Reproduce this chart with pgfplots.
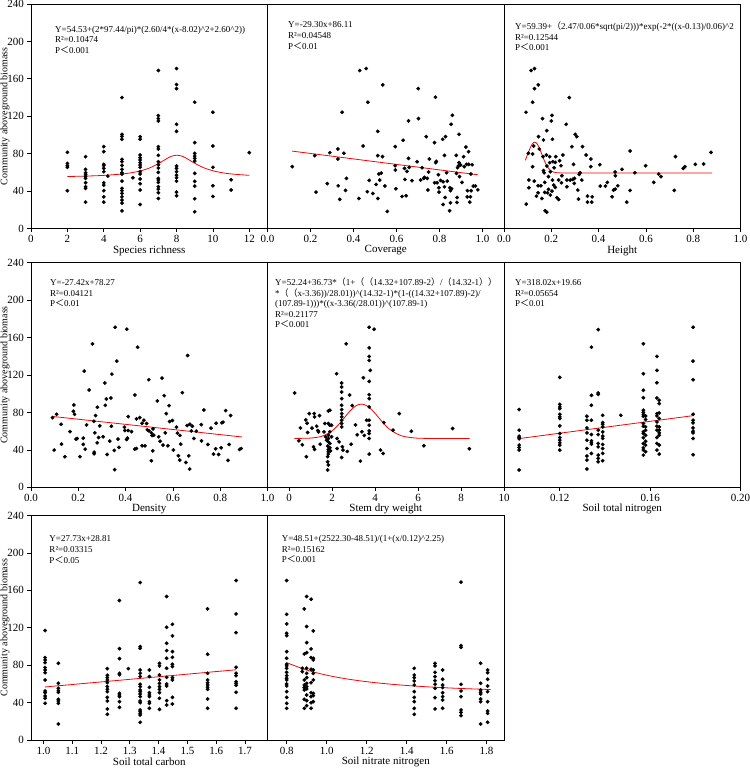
\documentclass[border=0pt]{standalone}
\usepackage{fontspec}
\setmainfont{Liberation Serif}
\newfontfamily\cjk{Noto Sans CJK SC}
\usepackage{pgfplots}
\pgfplotsset{compat=1.18}
\newcommand\ticfont{\fontsize{11}{13}\selectfont}
\newcommand\labfont{\fontsize{11}{13}\selectfont}
\newcommand\ylabfont{\fontsize{10}{12}\selectfont}
\newcommand\annfont{\fontsize{9}{11}\selectfont}
\newcommand\fwl{{\cjk （}}
\newcommand\fwr{{\cjk ）}}
\newcommand\fwlt{{\cjk ＜}}
\newcommand\crt{\textasciicircum}
\definecolor{fitred}{RGB}{255,0,0}
\pgfplotsset{
  panel/.style={scale only axis, width=236.5pt, height=224.5pt, anchor=south west,
    ymin=0, ymax=240, axis line style={black, line width=0.9pt},
    tick style={black, line width=0.7pt}, tick align=outside, major tick length=3.5pt,
    xtick pos=left, ytick pos=left, tick label style={font=\ticfont},
    /pgf/number format/assume math mode=true,
    xlabel style={font=\labfont, at={(axis description cs:0.5,-0.098)}, anchor=center}},
  leftpanel/.style={ytick={0,40,80,120,160,200,240}, ylabel={Community aboveground biomass},
    ylabel style={font=\ylabfont, at={(axis description cs:-0.110,0.5)}, anchor=center}},
  innerpanel/.style={ytick=\empty},
  dots/.style={only marks, mark=*, mark size=1.7pt, black},
  fit/.style={no marks, draw=fitred, line width=0.8pt},
}
\tikzset{ann/.style={anchor=base west, inner sep=0pt, font=\annfont}}
\begin{document}
\begin{tikzpicture}
\useasboundingbox (0pt,0pt) rectangle (750pt,-769pt);
% ---------- Panel 1
\begin{axis}[panel, leftpanel, at={(31pt,-228.5pt)}, xmin=0, xmax=13,
  xtick={0,2,4,6,8,10,12}, xticklabels={0,2,4,6,8,10,12}, xlabel={Species richness}]
\addplot[dots] coordinates {
(2,81.4)(2,69.6)(2,67.1)(2,65.4)(2,40.4)
(3,76.8)(3,63.2)(3,59.6)(3,57.5)(3,55.4)(3,53.6)(3,48.9)(3,44.6)(3,42.9)(3,28.2)
(4,87.5)(4,82.1)(4,68.6)(4,67.1)(4,64.3)(4,60.7)(4,48.9)(4,46.4)(4,40.4)(4,33.9)(4,28.2)(4.22,56.1)
(5,140)(5,100.7)(5,98.6)(5,95.4)(5,73.9)(5,71.4)(5,67.5)(5,63.2)(5,59.6)(5,58.2)(5,50.7)(5,42.9)(5,40.4)(5,37.5)(5,33.9)(5,30.4)(5,27.1)(5,18.9)(5.6,54.3)
(6,98.2)(6,95.4)(6,78.6)(6,75.7)(6,73.2)(6,70.4)(6,67.9)(6,65.4)(6,60.7)(6,58.2)(6,52.9)(6,47.9)(6,41.1)(6,25.7)
(7,168.9)(7,120.7)(7,117.5)(7,115)(7,87.5)(7,85)(7,78.2)(7,71.4)(7,68.2)(7,64.6)(7,60)(7,53.6)(7,51.8)(7,49.3)(7,44.6)(7,42.1)(7,38.2)(7,32.1)
(8,171)(8,153.9)(8,149.6)(8,111.4)(8,103.9)(8,66.8)(8,64.3)(8,60.7)(8,57.1)(8,54.3)(8,50.7)(8,38.9)(8,35)
(9,135)(9,91.8)(9,80.4)(9,77.5)(9,75)(9,72.1)(9,58.9)(9,50.4)(9,45.4)(9,31.8)(9,17.9)
(10,124.3)(10,88.2)(10,65.4)(10,45.7)(10,34.3)
(11,52.1)(11,41.1)(12,81.1)};
\addplot[fit, smooth] coordinates {
(2,55.59)(3,56.03)(4,56.79)(5,58.26)(5.5,59.55)(6,61.52)(6.5,64.61)(7,69.30)(7.5,75.10)(7.75,77.40)(8.02,78.39)
(8.25,77.66)(8.5,75.52)(9,69.74)(9.5,64.92)(10,61.72)(10.5,59.67)(11,58.34)(12,56.83)};
\node[ann] at ([xshift=24pt,yshift=-28pt]rel axis cs:0,1) {Y=54.53+(2*97.44/pi)*(2.60/4*(x-8.02)\crt2+2.60\crt2))};
\node[ann] at ([xshift=24pt,yshift=-38.7pt]rel axis cs:0,1) {R²=0.10474};
\node[ann] at ([xshift=24pt,yshift=-49.5pt]rel axis cs:0,1) {P\fwlt0.001};
\end{axis}
% ---------- Panel 2
\begin{axis}[panel, innerpanel, at={(267.5pt,-228.5pt)}, xmin=0, xmax=1.1,
  xtick={0,0.2,0.4,0.6,0.8,1.0}, xticklabels={0.0,0.2,0.4,0.6,0.8,1.0}, xlabel={Coverage}]
\addplot[dots] coordinates {
(0.115,66.1)(0.226,38.9)(0.220,77.9)(0.290,81.1)(0.327,85)(0.327,74.3)(0.355,80.4)(0.347,124.3)(0.278,47.9)(0.329,45.7)
(0.336,31.1)(0.367,53.6)(0.363,40.7)(0.429,168.9)(0.459,171)(0.467,135)(0.445,88.2)(0.425,32.1)(0.464,39.3)(0.473,51.4)
(0.490,37.5)(0.505,47.1)(0.513,32.1)(0.513,103.9)(0.513,77.9)(0.518,58.2)(0.529,59.3)(0.535,76.8)(0.536,153.6)(0.522,51.8)
(0.546,45.4)(0.557,18.2)(0.594,87.5)(0.594,67.1)(0.595,62.5)(0.597,42.5)(0.631,94.3)(0.626,34.3)(0.645,35)(0.637,64.3)
(0.649,61.1)(0.639,52.5)(0.656,115)(0.656,75)(0.659,65.4)(0.672,51.1)(0.701,149.6)(0.702,117.5)(0.696,71.4)(0.712,51.8)
(0.719,65)(0.727,53.6)(0.738,98.2)(0.730,54.6)(0.743,53.6)(0.746,41.1)(0.753,74.3)(0.749,60.4)(0.781,140.4)(0.777,91.8)
(0.785,71.8)(0.783,70.4)(0.777,48.9)(0.789,48.9)(0.795,57.5)(0.797,43.6)(0.798,38.9)(0.805,51.4)(0.815,95.4)(0.817,50)
(0.817,25.7)(0.823,78.2)(0.828,98.2)(0.823,44.6)(0.826,33.2)(0.833,59.6)(0.836,50.7)(0.848,43.6)(0.851,40.4)(0.854,111.4)
(0.851,27.5)(0.847,18.9)(0.860,121)(0.856,42.5)(0.878,78.2)(0.879,58.9)(0.882,33.2)(0.884,65)(0.888,66.8)(0.891,70.4)
(0.891,100.7)(0.893,55.4)(0.881,27.9)(0.898,67.9)(0.905,49.3)(0.912,76.8)(0.915,66.1)(0.923,87.1)(0.926,68.6)(0.929,33.9)
(0.930,40.4)(0.935,82.1)(0.936,68.6)(0.941,28.2)(0.944,33.9)(0.947,40.4)(0.952,68.2)(0.946,58.2)(0.957,45.4)(0.967,45.4)(0.978,41.4)};
\addplot[fit] coordinates {(0.115,82.74)(0.978,57.45)};
\node[ann] at ([xshift=20.5pt,yshift=-23.7pt]rel axis cs:0,1) {Y=-29.30x+86.11};
\node[ann] at ([xshift=20.5pt,yshift=-34.7pt]rel axis cs:0,1) {R²=0.04548};
\node[ann] at ([xshift=20.5pt,yshift=-45.5pt]rel axis cs:0,1) {P\fwlt0.01};
\end{axis}
% ---------- Panel 3
\begin{axis}[panel, innerpanel, at={(504pt,-228.5pt)}, xmin=0, xmax=1.0,
  xtick={0,0.2,0.4,0.6,0.8,1.0}, xticklabels={0.0,0.2,0.4,0.6,0.8,1.0}, xlabel={Height}]
\addplot[dots] coordinates {
(0.093,124.3)(0.094,26.1)(0.105,51.8)(0.105,43.6)(0.103,80.4)(0.115,168.9)(0.129,171)(0.121,135)(0.129,149.6)(0.145,153.6)
(0.121,79.6)(0.121,66.1)(0.125,88.2)(0.128,50.7)(0.137,34.6)(0.144,38.2)(0.146,98.2)(0.144,45.7)(0.149,85)(0.156,45.7)
(0.160,32.1)(0.163,117.5)(0.167,94.6)(0.165,76.8)(0.167,61.8)(0.170,59.6)(0.172,49.3)(0.172,38.6)(0.174,18.9)(0.181,17.5)
(0.179,78.6)(0.181,66.8)(0.181,104.6)(0.184,38.2)(0.188,55.4)(0.188,41.8)(0.193,76.8)(0.193,70.4)(0.196,60.7)(0.196,35.7)
(0.200,115)(0.203,121)(0.203,40)(0.205,95.4)(0.205,51.8)(0.207,71.4)(0.210,46.4)(0.212,65)(0.217,70.7)(0.217,43.9)
(0.219,76.8)(0.224,32.9)(0.231,31.1)(0.231,51.8)(0.235,72.5)(0.241,67.1)(0.243,48.9)(0.245,56.4)(0.249,78.6)(0.263,111.4)
(0.266,51.8)(0.266,44.6)(0.276,140)(0.280,51.8)(0.287,87.5)(0.291,52.5)(0.294,68.6)(0.297,48.2)(0.298,53.6)(0.301,100.7)
(0.308,98.2)(0.312,41.1)(0.315,31.4)(0.318,57.9)(0.322,59.6)(0.332,87.5)(0.329,51.8)(0.347,78.6)(0.353,34.6)(0.353,28.2)
(0.367,74.3)(0.373,33.9)(0.371,28.2)(0.367,66.1)(0.405,68.2)(0.407,45.4)(0.429,45.4)(0.437,49.3)(0.457,33.9)(0.463,41.1)
(0.470,42.1)(0.470,60.4)(0.471,56.4)(0.481,45.7)(0.499,63.2)(0.519,28.2)(0.533,82.9)(0.533,40.7)(0.553,59.6)(0.599,67.1)
(0.633,49.3)(0.654,58.2)(0.664,55.4)(0.720,40.7)(0.725,76.8)(0.758,64.3)(0.765,66.1)(0.809,68.6)(0.844,68.9)(0.875,81.4)};
\addplot[fit, smooth] coordinates {
(0.09,72.89)(0.095,76.02)(0.10,79.31)(0.105,82.60)(0.11,85.69)(0.115,88.38)(0.12,90.46)(0.125,91.79)(0.13,92.24)
(0.135,91.79)(0.14,90.46)(0.145,88.38)(0.15,85.69)(0.155,82.60)(0.16,79.31)(0.165,76.02)(0.17,72.89)(0.175,70.06)
(0.18,67.58)(0.185,65.51)(0.19,63.83)(0.195,62.53)(0.20,61.55)(0.205,60.83)(0.21,60.33)(0.22,59.75)(0.23,59.52)(0.24,59.43)(0.26,59.39)(0.40,59.39)(0.60,59.39)(0.88,59.39)};
\node[ann] at ([xshift=11pt,yshift=-25.4pt]rel axis cs:0,1) {Y=59.39+\fwl2.47/0.06*sqrt(pi/2)))*exp(-2*((x-0.13)/0.06)\crt2};
\node[ann] at ([xshift=11pt,yshift=-36pt]rel axis cs:0,1) {R²=0.12544};
\node[ann] at ([xshift=11pt,yshift=-46.5pt]rel axis cs:0,1) {P\fwlt0.001};
\end{axis}
% ---------- Panel 4
\begin{axis}[panel, leftpanel, at={(31pt,-487.3pt)}, xmin=0, xmax=1.0,
  xtick={0,0.2,0.4,0.6,0.8,1.0}, xticklabels={0.0,0.2,0.4,0.6,0.8,1.0}, xlabel={Density}]
\addplot[dots] coordinates {
(0.091,74.5)(0.098,39.8)(0.108,78.1)(0.127,67.4)(0.129,46.1)(0.143,32.7)(0.165,59.6)(0.179,81.3)(0.181,88)(0.184,78.1)
(0.190,51.5)(0.195,52.2)(0.207,32.7)(0.221,52.5)(0.221,45.8)(0.225,124.2)(0.229,40.8)(0.235,66.7)(0.246,104)(0.260,153.4)
(0.266,70.6)(0.270,58.2)(0.267,37.6)(0.267,35.9)(0.273,76.7)(0.281,85.6)(0.280,47.6)(0.286,53.2)(0.291,65.7)(0.305,54)
(0.312,111.5)(0.314,87.7)(0.319,94.4)(0.322,35.1)(0.333,49.3)(0.338,95.5)(0.340,65.3)(0.342,121)(0.352,39.4)(0.356,171.1)
(0.354,18.8)(0.363,134.9)(0.368,51.5)(0.372,42.6)(0.395,64.3)(0.397,60.7)(0.405,169)(0.408,52.5)(0.411,75.6)(0.404,51.1)
(0.411,60.7)(0.425,59.6)(0.439,98.7)(0.439,40.8)(0.446,41.5)(0.446,73.1)(0.451,149.8)(0.460,74.5)(0.470,68.5)(0.470,44.4)
(0.477,71.7)(0.482,44.4)(0.489,68.2)(0.492,61.4)(0.498,115)(0.499,60.3)(0.509,58.2)(0.509,28.4)(0.512,55.4)(0.515,39)
(0.516,62.5)(0.519,55.7)(0.534,92.3)(0.540,54)(0.546,49.3)(0.554,116.8)(0.558,45.1)(0.563,98)(0.568,58.2)(0.572,78.8)
(0.579,44.4)(0.584,87.3)(0.586,70.3)(0.598,71.4)(0.602,39.8)(0.615,64.3)(0.619,57.9)(0.623,33.7)(0.630,55.4)(0.629,29.1)
(0.633,46.1)(0.640,101.2)(0.655,26.6)(0.660,66)(0.662,140.9)(0.667,33.7)(0.671,19.5)(0.672,67.4)(0.678,60.3)(0.682,65.3)
(0.689,52.2)(0.699,60)(0.721,49.7)(0.720,67)(0.731,82.7)(0.748,45.8)(0.761,63.2)(0.772,35.5)(0.781,41.2)(0.783,68.5)
(0.793,35.1)(0.804,42.2)(0.807,68.9)(0.812,69.6)(0.823,82)(0.833,28.8)(0.838,45.8)(0.844,76.7)(0.882,40.5)(0.889,41.5)};
\addplot[fit] coordinates {(0.091,75.77)(0.892,53.81)};
\node[ann] at ([xshift=19pt,yshift=-22.7pt]rel axis cs:0,1) {Y=-27.42x+78.27};
\node[ann] at ([xshift=19pt,yshift=-33.3pt]rel axis cs:0,1) {R²=0.04121};
\node[ann] at ([xshift=19pt,yshift=-43.7pt]rel axis cs:0,1) {P\fwlt0.01};
\end{axis}
% ---------- Panel 5
\begin{axis}[panel, innerpanel, at={(267.5pt,-487.3pt)}, xmin=-1, xmax=10,
  xtick={0,2,4,6,8,10}, xticklabels={0,2,4,6,8,10}, xlabel={Stem dry weight}]
\addplot[dots] coordinates {
(0.26,100.8)(0.46,49.7)(0.53,63.5)(0.62,45.4)(0.78,72.1)(0.81,32.7)(0.84,68.5)(0.87,58.6)(0.94,78.8)(1.07,63.2)
(1.17,78.8)(1.19,75.3)(1.14,43.3)(1.19,40.5)(1.29,65.3)(1.34,60.7)(1.37,59.3)(1.42,76.7)(1.45,46.1)(1.63,59.3)
(1.67,68.2)(1.70,54)(1.75,50.4)(1.80,44)(1.80,32.7)(1.80,27.3)(1.80,18.5)(1.83,81.6)(1.83,68.2)(1.83,55.7)
(1.83,52.2)(1.83,48.6)(1.83,40.5)(1.83,38)(1.83,35.5)(1.83,23.8)(1.90,82.4)(1.90,66.4)(1.90,59.3)(1.90,46.9)
(1.90,42.2)(1.93,39)(1.98,66.4)(1.98,54)(2.21,121.4)(2.24,52.2)(2.24,41.5)(2.33,48.6)(2.45,111.5)(2.45,107.2)
(2.45,101.9)(2.45,94.8)(2.45,87.7)(2.45,83.1)(2.45,78.8)(2.45,75.3)(2.45,71.7)(2.45,68.2)(2.45,64.6)(2.48,43.3)
(2.45,31.9)(2.51,39.8)(2.66,153.4)(2.71,38.3)(2.82,98.7)(2.94,87.3)(2.89,46.1)(3.09,66.7)(3.17,56.1)(3.32,28)
(3.39,59.3)(3.46,117.1)(3.50,55.4)(3.61,71.7)(3.73,171.1)(3.73,149.1)(3.73,139.9)(3.73,135.6)(3.73,113.2)(3.73,99)
(3.73,94.8)(3.73,85.9)(3.73,71.7)(3.73,66.4)(3.73,60.3)(3.73,57.5)(3.73,52.2)(3.73,35.5)(3.78,125)(3.96,169)
(4.26,39.8)(4.38,36.2)(4.41,69.2)(4.84,61.1)(5.13,78.8)(5.69,60)(6.27,44.4)(7.61,62.8)(8.39,41.2)};
\addplot[fit, smooth] coordinates {
(0.25,52.25)(1.0,52.62)(1.5,54.38)(1.86,58.02)(2.11,62.41)(2.36,68.39)(2.61,75.37)(2.86,82.14)(3.11,87.14)(3.36,88.97)
(3.61,87.3)(3.86,82.6)(4.11,76.2)(4.36,69.4)(4.61,63.3)(4.86,59.2)(5.11,56.2)(5.36,54.3)(5.86,52.7)(6.36,52.3)(7.0,52.24)(8.4,52.24)};
\node[ann] at ([xshift=7.5pt,yshift=-22.7pt]rel axis cs:0,1) {Y=52.24+36.73*\fwl1+\fwl\fwl14.32+107.89-2\fwr/\fwl14.32-1\fwr\fwr};
\node[ann] at ([xshift=7.5pt,yshift=-33.3pt]rel axis cs:0,1) {*\fwl\fwl x-3.36))/28.01))\crt(14.32-1)*(1-((14.32+107.89)-2)/};
\node[ann] at ([xshift=7.5pt,yshift=-43.7pt]rel axis cs:0,1) {(107.89-1)))*((x-3.36(/28.01))\crt(107.89-1)};
\node[ann] at ([xshift=7.5pt,yshift=-54.3pt]rel axis cs:0,1) {R²=0.21177};
\node[ann] at ([xshift=7.5pt,yshift=-65pt]rel axis cs:0,1) {P\fwlt0.001};
\end{axis}
% ---------- Panel 6
\begin{axis}[panel, innerpanel, at={(504pt,-487.3pt)}, xmin=0.0953, xmax=0.2,
  xtick={0.12,0.16,0.20}, xticklabels={0.12,0.16,0.20}, xlabel={Soil total nitrogen}]
\addplot[dots] coordinates {
(0.102,83.1)(0.102,61.1)(0.102,54.7)(0.102,53.2)(0.102,51.8)(0.102,45.1)(0.102,42.6)(0.102,39.8)(0.102,18.5)
(0.120,117.5)(0.120,88.7)(0.120,85.9)(0.120,84.1)(0.120,78.1)(0.120,75.3)(0.120,73.5)(0.120,65.7)(0.120,57.5)(0.120,53.2)(0.120,50.4)(0.120,47.6)(0.120,45.1)(0.120,39.8)
(0.132,76)(0.132,71.7)(0.132,63.5)(0.132,58.2)(0.132,50.4)(0.132,41.5)(0.132,33.4)(0.132,29.1)(0.132,19.5)
(0.134,149.8)(0.134,98.3)(0.134,87.7)(0.134,71.7)(0.134,56.4)(0.134,49.7)(0.134,47.6)(0.134,46.1)(0.134,36.2)
(0.137,168.6)(0.137,100.8)(0.137,99.4)(0.137,61.1)(0.137,56.4)(0.137,46.9)(0.137,43.3)(0.137,34.4)(0.137,30.9)(0.137,27.3)
(0.139,77)(0.139,69.2)(0.139,67.4)(0.139,64.6)(0.139,59.3)(0.139,54.7)(0.139,52.2)(0.139,45.8)(0.139,41.5)(0.139,36.2)(0.139,28.4)
(0.147,77)
(0.157,153.4)(0.157,121.4)(0.157,103.7)(0.157,95.8)(0.157,82.4)(0.157,79.9)(0.157,77.7)(0.157,76)(0.157,68.2)(0.157,65.3)(0.157,59.3)(0.157,57.5)(0.157,52.9)(0.157,46.9)(0.157,42.2)(0.157,39.8)(0.157,34.4)
(0.158,76.3)(0.158,72.4)(0.158,64.6)(0.158,61.1)(0.158,55.7)(0.158,49.3)(0.158,45.1)(0.158,38)
(0.163,139.9)(0.163,125)(0.163,111.8)(0.163,95.5)(0.163,78.8)(0.163,76.3)(0.163,69.9)(0.163,65.3)(0.163,61.1)(0.163,53.2)(0.163,46.9)(0.163,39.8)
(0.164,93)(0.164,89.5)(0.164,79.5)(0.164,73.5)(0.164,64.6)(0.164,61.1)(0.164,58.2)(0.164,55.7)(0.164,45.1)(0.164,35.5)
(0.179,171.1)(0.179,134.9)(0.179,115)(0.179,78.1)(0.179,71.7)(0.179,68.9)(0.179,63.5)(0.179,60)(0.179,58.2)(0.179,52.2)(0.179,34.8)};
\addplot[fit] coordinates {(0.102,52.10)(0.179,76.59)};
\node[ann] at ([xshift=11pt,yshift=-22.7pt]rel axis cs:0,1) {Y=318.02x+19.66};
\node[ann] at ([xshift=11pt,yshift=-33.3pt]rel axis cs:0,1) {R²=0.05654};
\node[ann] at ([xshift=11pt,yshift=-43.7pt]rel axis cs:0,1) {P\fwlt0.01};
\end{axis}
% ---------- Panel 7
\begin{axis}[panel, leftpanel, at={(31pt,-740pt)}, xmin=0.957, xmax=1.778,
  xtick={1.0,1.1,1.2,1.3,1.4,1.5,1.6,1.7}, xticklabels={1.0,1.1,1.2,1.3,1.4,1.5,1.6,1.7}, xlabel={Soil total carbon}]
\addplot[dots] coordinates {
(1.006,117)(1.006,88.1)(1.006,85.6)(1.006,82.7)(1.006,77.4)(1.006,74.9)(1.006,72)(1.006,64.2)(1.006,52.4)(1.006,50.6)(1.006,47.1)(1.006,44.6)(1.006,39.2)
(1.052,82)(1.052,60.6)(1.052,55.3)(1.052,52.8)(1.052,51)(1.052,43.5)(1.052,41.7)(1.052,39.2)(1.052,17.1)
(1.222,76.3)(1.222,69.2)(1.222,66.7)(1.222,64.2)(1.222,61.3)(1.222,57.1)(1.222,54.2)(1.222,51.7)(1.222,45.6)(1.222,41.7)(1.222,33.2)(1.222,27.5)
(1.264,149.1)(1.264,97.7)(1.264,87)(1.264,71.3)(1.264,69.9)(1.264,49.9)(1.264,48.1)(1.264,46.4)(1.264,41)(1.264,34.9)
(1.295,76.3)
(1.336,168.3)(1.336,99.9)(1.336,98.1)(1.336,74.9)(1.336,71.3)(1.336,67.8)(1.336,59.6)(1.336,57.1)(1.336,53.5)(1.336,51.7)(1.336,49.2)(1.336,46.4)(1.336,41.7)(1.336,39.9)(1.336,32.1)(1.336,30.3)(1.336,28.5)(1.336,26.7)(1.336,18.9)
(1.368,74.9)(1.368,67.8)(1.368,56.3)(1.368,50.6)(1.368,48.1)(1.368,46.4)(1.368,41)(1.368,39.2)(1.368,33.9)
(1.403,82)(1.403,79.2)(1.403,69.5)(1.403,64.2)(1.403,60.6)(1.403,57.1)(1.403,54.2)(1.403,50.6)(1.403,44.6)(1.403,32.8)
(1.428,153.4)(1.428,120.5)(1.428,103.4)(1.428,95.6)(1.428,87.4)(1.428,76.7)(1.428,67)(1.428,59.9)(1.428,57.8)(1.428,42.1)(1.428,37.4)
(1.448,123.7)(1.448,111.3)(1.448,94.5)(1.448,88.4)(1.448,81)(1.448,78.5)(1.448,66.7)(1.448,64.2)(1.448,45.6)(1.448,38.5)
(1.570,140.2)(1.570,91.7)(1.570,71.3)(1.570,64.2)(1.570,61.3)(1.570,58.8)(1.570,56.3)(1.570,54.2)(1.570,43.9)(1.570,33.9)
(1.669,170.5)(1.669,134.8)(1.669,114.8)(1.669,77.7)(1.669,71.3)(1.669,68.8)(1.669,62.4)(1.669,60.6)(1.669,58.5)(1.669,51)(1.669,33.9)};
\addplot[fit] coordinates {(1.006,56.71)(1.669,75.09)};
\node[ann] at ([xshift=18.3pt,yshift=-26.3pt]rel axis cs:0,1) {Y=27.73x+28.81};
\node[ann] at ([xshift=18.3pt,yshift=-37.3pt]rel axis cs:0,1) {R²=0.03315};
\node[ann] at ([xshift=18.3pt,yshift=-48pt]rel axis cs:0,1) {P\fwlt0.05};
\end{axis}
% ---------- Panel 8
\begin{axis}[panel, innerpanel, at={(267.5pt,-740pt)}, xmin=0.704, xmax=1.887,
  xtick={0.8,1.0,1.2,1.4,1.6,1.8}, xticklabels={0.8,1.0,1.2,1.4,1.6,1.8}, xlabel={Soil nitrate nitrogen}]
\addplot[dots] coordinates {
(0.80,170.5)(0.80,134.4)(0.80,124.1)(0.80,114.1)(0.80,111.6)(0.80,94.5)(0.80,87.4)(0.80,81)(0.80,79.2)(0.80,76.7)(0.80,72.4)(0.80,68.8)(0.80,66)(0.80,64.2)(0.80,59.9)(0.80,57.8)(0.80,51.7)(0.80,45.6)(0.80,39.2)(0.80,33.9)
(0.878,76.7)(0.878,73.1)
(0.888,140.2)(0.888,92)(0.888,64.2)(0.888,58.8)(0.888,56)(0.888,53.5)(0.888,43.5)(0.888,33.9)
(0.90,153.4)(0.90,121.3)(0.90,104.1)(0.90,93.4)(0.90,76.7)(0.90,71.3)(0.90,66.7)(0.90,60.6)(0.90,57.1)(0.90,54.6)(0.90,48.1)(0.90,42.1)(0.90,36.7)
(0.922,150.5)(0.922,97.4)(0.922,88.1)(0.922,75.6)(0.922,61.3)(0.922,50.6)(0.922,46.4)(0.922,39.9)(0.922,33.9)
(0.933,116.6)(0.933,87.4)(0.933,85.6)(0.933,74.9)(0.933,71.3)(0.933,64.2)(0.933,49.9)(0.933,47.4)(0.933,41)
(1.438,76.7)(1.438,69.5)(1.438,66.7)(1.438,63.1)(1.438,58.8)(1.438,51.7)(1.438,45.6)(1.438,41)(1.438,33.9)(1.438,27.5)
(1.542,82)(1.542,79.2)(1.542,72.4)(1.542,67.8)(1.542,63.5)(1.542,59.6)(1.542,55.3)(1.542,45.3)(1.542,33.2)
(1.58,74.9)(1.58,64.9)(1.58,58.8)(1.58,56)(1.58,50.6)(1.58,46.4)(1.58,42.8)(1.58,33.9)
(1.672,168.7)(1.672,100.9)(1.672,99.1)(1.672,59.6)(1.672,52.4)(1.672,46.4)(1.672,32.1)(1.672,29.6)(1.672,26)
(1.77,82)(1.77,60.6)(1.77,53.5)(1.77,51)(1.77,49.2)(1.77,43.9)(1.77,41)(1.77,17.1)
(1.805,74.9)(1.805,72)(1.805,64.9)(1.805,57.8)(1.805,51.7)(1.805,41)(1.805,31)(1.805,28.5)(1.805,18.9)};
\addplot[fit, smooth] coordinates {
(0.8,82.67)(0.9,74.80)(1.0,69.30)(1.1,65.32)(1.2,62.35)(1.3,60.08)(1.4,58.30)(1.5,56.90)(1.6,55.77)(1.7,54.85)(1.82,53.95)};
\node[ann] at ([xshift=14.2pt,yshift=-26.3pt]rel axis cs:0,1) {Y=48.51+(2522.30-48.51)/(1+(x/0.12)\crt2.25)};
\node[ann] at ([xshift=14.2pt,yshift=-36.7pt]rel axis cs:0,1) {R²=0.15162};
\node[ann] at ([xshift=14.2pt,yshift=-47.3pt]rel axis cs:0,1) {P\fwlt0.001};
\end{axis}
\end{tikzpicture}
\end{document}
